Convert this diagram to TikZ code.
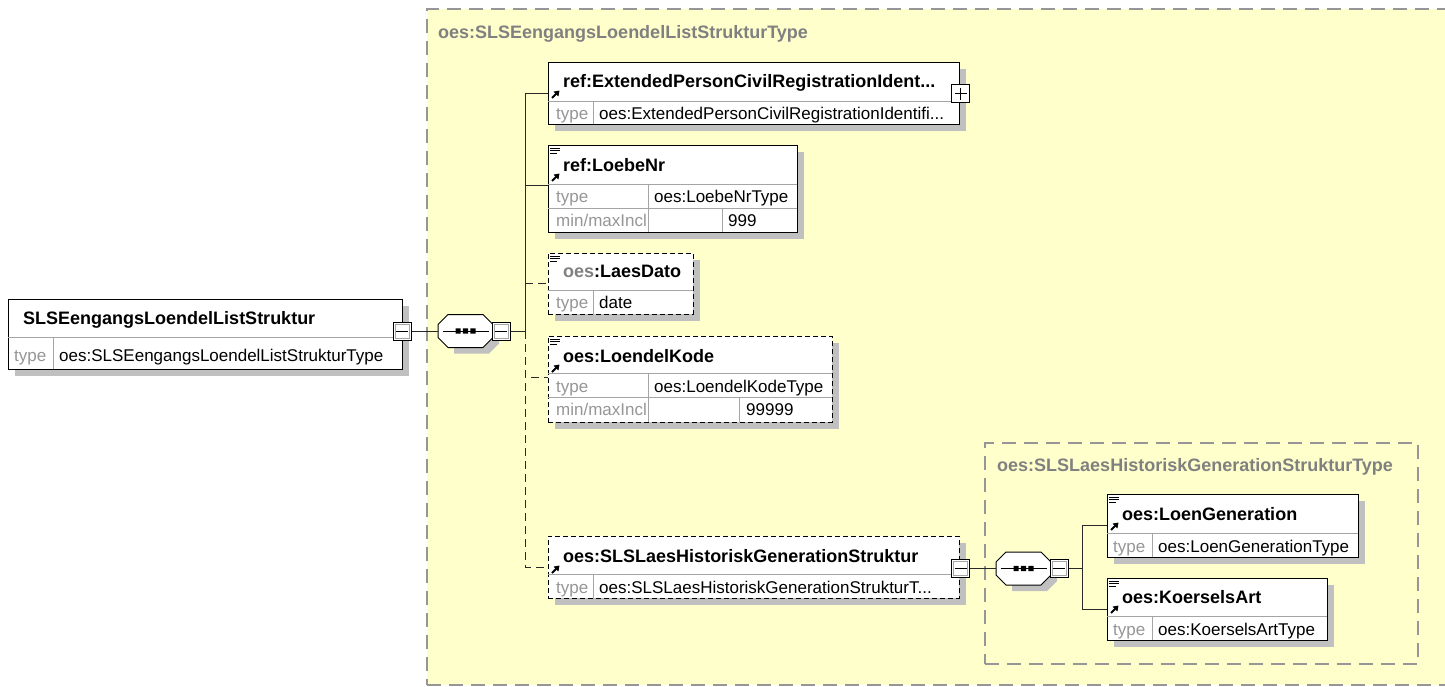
\documentclass[tikz,border=0pt]{standalone}
\usepackage{fontspec}
\setmainfont{Liberation Sans}
\usetikzlibrary{arrows.meta,calc}
\definecolor{bgyellow}{RGB}{255,255,204}
\definecolor{shadowgray}{RGB}{192,192,192}
\definecolor{labelgray}{RGB}{128,128,128}
\definecolor{typegray}{RGB}{150,150,150}
\definecolor{divgray}{RGB}{165,165,165}
\definecolor{dashgray}{RGB}{150,150,150}
\definecolor{linecol}{RGB}{40,40,40}
\tikzset{
  elembox/.style={draw=black, line width=1pt, fill=white, inner sep=0pt, rectangle},
  optbox/.style={elembox, dash pattern=on 5pt off 3pt},
  groupbox/.style={draw=dashgray, line width=1.2pt, fill=bgyellow, inner sep=0pt, rectangle, dash pattern=on 14pt off 8pt},
  divline/.style={draw=divgray, line width=0.9pt},
  conn/.style={draw=linecol, line width=0.9pt},
  optconn/.style={conn, dash pattern=on 8pt off 5pt},
  ttl/.style={font=\fontsize{18}{20}\selectfont\bfseries, inner sep=0pt, anchor=base west},
  glab/.style={ttl, text=labelgray},
  tval/.style={font=\fontsize{17}{20}\selectfont, inner sep=0pt, anchor=base west},
  tlab/.style={tval, text=typegray},
  pmbox/.style={draw=black, line width=1pt, fill=white, minimum size=18pt, inner sep=0pt, rectangle},
  hidden/.style={inner sep=0pt, rectangle},
}
\newcommand\mkbox[7][1]{%
  \ifnum#1=1 \fill[shadowgray] ({#4+7},{#5+7}) rectangle ({#6+7},{#7+7});\fi
  \node[#2, minimum width={#6-#4}, minimum height={#7-#5}] (#3) at ({(#4+#6)/2},{(#5+#7)/2}) {};}
\newcommand\docicon[2]{\draw[line width=0.8pt] (#1,#2) -- ++(10,0) (#1,{#2+2.6}) -- ++(10,0) (#1,{#2+5.2}) -- ++(7,0);}
\newcommand\arricon[2]{\draw[line width=2pt,-{Triangle[length=5pt,width=6.5pt]}] (#1,#2) -- ++(7.5,-7.5);}
\newcommand\octa[3]{%
  \begin{scope}[shift={(#1,#2)}]
    \fill[shadowgray] (-11.5,-9.5) -- (23.5,-9.5) -- (33.5,0.5) -- (33.5,12.5) -- (23.5,22.5) -- (-11.5,22.5) -- cycle;
    \draw[line width=1pt, fill=white] (-17.5,-16.5) -- (17.5,-16.5) -- (27.5,-6.5) -- (27.5,6.5) -- (17.5,16.5) -- (-17.5,16.5) -- (-27.5,6.5) -- (-27.5,-6.5) -- cycle;
    \draw[line width=0.9pt] (-23,0) -- (23,0);
    \fill (-10,-2.6) rectangle ++(5.2,5.2) (-2.6,-2.6) rectangle ++(5.2,5.2) (4.8,-2.6) rectangle ++(5.2,5.2);
  \end{scope}%
  \node[hidden, minimum width=55pt, minimum height=33pt] (#3) at (#1,#2) {};}
\newcommand\pmdeco[1]{\draw[divgray, line width=0.9pt] ([shift={(2.5pt,2.5pt)}]#1.south west) rectangle ([shift={(-2.5pt,-2.5pt)}]#1.north east);
  \draw[line width=0.9pt] ([xshift=3.5pt]#1.west) -- ([xshift=-3.5pt]#1.east);}
\begin{document}
\begin{tikzpicture}[x=1pt,y=-1pt]
\useasboundingbox (0,0) rectangle (1445,686);
\fill[white] (0,0) rectangle (1445,686);

% outer group
\mkbox[0]{groupbox}{outer}{427}{9}{1470}{685}
\node[glab] (outerlab) at (438,38) {oes:SLSEengangsLoendelListStrukturType};

% root element
\mkbox{elembox}{root}{8}{299}{402}{369}
\draw[divline] (8,337) -- (402,337) (53,337) -- (53,369);
\node[ttl] (rootT) at (23,324) {SLSEengangsLoendelListStruktur};
\node[tlab] (rootTy) at (14,361) {type};
\node[tval] (rootV) at (59,361) {oes:SLSEengangsLoendelListStrukturType};
\node[pmbox] (rootm) at (402,331) {};
\pmdeco{rootm}

% sequence
\octa{465.5}{331}{seq}
\node[pmbox] (seqm) at (501,331) {};
\pmdeco{seqm}

% box 1
\mkbox{elembox}{ext}{548}{62}{959}{124}
\draw[divline] (548,101) -- (959,101) (593,101) -- (593,124);
\node[ttl] (extT) at (563,87) {ref:ExtendedPersonCivilRegistrationIdent...};
\arricon{552}{98}
\node[tlab] (extTy) at (556,119) {type};
\node[tval] (extV) at (599,119) {oes:ExtendedPersonCivilRegistrationIdentifi...};
\node[pmbox] (extp) at (960.5,93.5) {};
\draw[line width=0.9pt] ([xshift=3.5pt]extp.west) -- ([xshift=-3.5pt]extp.east) ([yshift=-3.5pt]extp.north) -- ([yshift=3.5pt]extp.south);

% box 2
\mkbox{elembox}{loebe}{548}{145}{797}{232}
\draw[divline] (548,184) -- (797,184) (548,208) -- (797,208) (648,184) -- (648,232) (722,208) -- (722,232);
\docicon{550}{148}
\node[ttl] (loebeT) at (563,171) {ref:LoebeNr};
\arricon{552}{181}
\node[tlab] (loebeTy) at (556,202) {type};
\node[tval] (loebeV) at (654,202) {oes:LoebeNrType};
\node[tlab] (loebeMn) at (556,226) {min/maxIncl};
\node[tval] (loebeMx) at (728,226) {999};
\coordinate (loebeIn) at (548,185);

% box 3
\mkbox{optbox}{laes}{548}{253}{693}{314}
\draw[divline] (548,290) -- (693,290) (593,290) -- (593,314);
\docicon{550}{256}
\node[ttl] (laesT) at (563,277) {\textcolor{labelgray}{oes}:LaesDato};
\node[tlab] (laesTy) at (556,308) {type};
\node[tval] (laesV) at (599,308) {date};

% box 4
\mkbox{optbox}{kode}{548}{336}{832}{422}
\draw[divline] (548,373) -- (832,373) (548,397) -- (832,397) (648,373) -- (648,422) (739,397) -- (739,422);
\docicon{550}{339}
\node[ttl] (kodeT) at (563,362) {oes:LoendelKode};
\arricon{552}{372}
\node[tlab] (kodeTy) at (556,392) {type};
\node[tval] (kodeV) at (654,392) {oes:LoendelKodeType};
\node[tlab] (kodeMn) at (556,415) {min/maxIncl};
\node[tval] (kodeMx) at (746,415) {99999};
\coordinate (kodeIn) at (548,377);

% box 5
\mkbox{optbox}{hist}{548}{536}{959}{598}
\draw[divline] (548,574) -- (959,574) (593,574) -- (593,598);
\node[ttl] (histT) at (563,562) {oes:SLSLaesHistoriskGenerationStruktur};
\arricon{552}{573}
\node[tlab] (histTy) at (556,593) {type};
\node[tval] (histV) at (599,593) {oes:SLSLaesHistoriskGenerationStrukturT...};

% nested group
\mkbox[0]{groupbox}{inner}{985}{443}{1418}{664}
\node[glab] (innerlab) at (997,471) {oes:SLSLaesHistoriskGenerationStrukturType};
\node[pmbox] (histm) at (960.5,568.5) {};
\pmdeco{histm}
\octa{1023.5}{568.5}{seqb}
\node[pmbox] (seqbm) at (1059,568.5) {};
\pmdeco{seqbm}

\mkbox{elembox}{loen}{1107}{494}{1358}{557}
\draw[divline] (1107,533) -- (1358,533) (1152,533) -- (1152,557);
\docicon{1109}{497}
\node[ttl] (loenT) at (1122,520) {oes:LoenGeneration};
\arricon{1111}{530}
\node[tlab] (loenTy) at (1113,552) {type};
\node[tval] (loenV) at (1158,552) {oes:LoenGenerationType};

\mkbox{elembox}{koer}{1107}{578}{1327}{640}
\draw[divline] (1107,616) -- (1327,616) (1152,616) -- (1152,640);
\docicon{1109}{581}
\node[ttl] (koerT) at (1122,603) {oes:KoerselsArt};
\arricon{1111}{613}
\node[tlab] (koerTy) at (1113,635) {type};
\node[tval] (koerV) at (1158,635) {oes:KoerselsArtType};

% connectors
\coordinate (tk) at (525,331);
\coordinate (tkb) at (1082,568.5);
\draw[conn] (rootm.east) -- (seq.west);
\draw[conn] (seqm.east) -- (tk);
\draw[conn] (tk) |- (ext.west);
\draw[conn] (tk) |- (loebeIn);
\draw[optconn] (laes.west -| tk) -- (laes.west);
\draw[optconn] (tk) |- (kodeIn);
\draw[optconn] (tk) |- (hist.west);
\draw[conn] (histm.east) -- (seqb.west);
\draw[conn] (seqbm.east) -- (tkb);
\draw[conn] (tkb) |- (loen.west);
\draw[conn] (tkb) |- (koer.west);
\end{tikzpicture}
\end{document}
